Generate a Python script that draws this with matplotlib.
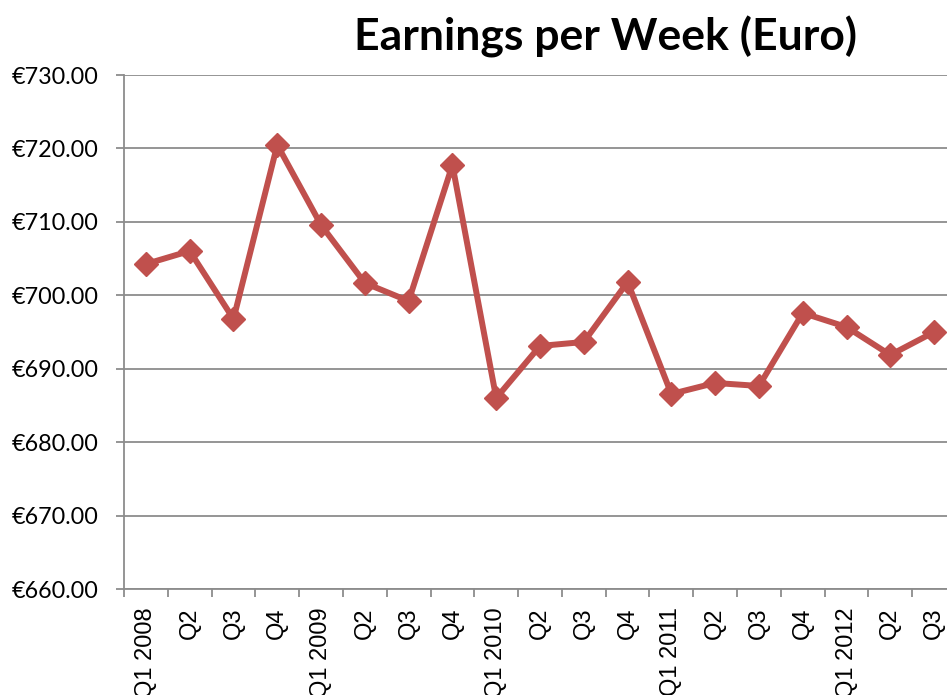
"""Earnings per Week (Euro), quarterly 2008-2012"""
import numpy as np
from matplotlib import pyplot as plt

quarters = ['Q1 2008', 'Q2', 'Q3', 'Q4',
            'Q1 2009', 'Q2', 'Q3', 'Q4',
            'Q1 2010', 'Q2', 'Q3', 'Q4',
            'Q1 2011', 'Q2', 'Q3', 'Q4',
            'Q1 2012', 'Q2', 'Q3']
earnings = [704.26, 706.03, 696.77, 720.47,
            709.57, 701.67, 699.22, 717.74,
            686.01, 693.10, 693.64, 701.81,
            686.56, 688.06, 687.65, 697.59,
            695.68, 691.87, 695.00]
y_ticks = np.arange(660, 730 + 10, 10)


def plot():
    fig = plt.figure(figsize=(9.47, 6.95), dpi=100)
    # axes run past the right edge, as in the cropped original
    ax = fig.add_axes([124 / 947, 1 - 589 / 695, 832 / 947, 514 / 695])

    x = np.arange(len(quarters))
    ax.plot(x, earnings, color='#C0504D', linewidth=4.3, marker='D',
            markersize=12, zorder=3, clip_on=False)

    ax.set_xlim(-0.5, len(quarters) - 0.5)
    ax.set_ylim(y_ticks[0], y_ticks[-1])
    ax.set_yticks(y_ticks)
    ax.set_yticklabels(['€{:.2f}'.format(v) for v in y_ticks],
                       fontfamily='Lato', fontsize=16.8)
    ax.yaxis.grid(True, color='#8c8c8c', linewidth=1.3)
    ax.set_axisbelow(True)

    ax.set_xticks(x)
    ax.set_xticklabels(quarters, rotation=90, fontfamily='Liberation Sans',
                       fontsize=17, va='top')
    ax.set_xticks(np.arange(len(quarters) + 1) - 0.5, minor=True)
    ax.tick_params(axis='x', which='major', length=0, pad=13)
    ax.tick_params(axis='x', which='minor', length=6, width=1.3,
                   color='#8c8c8c', direction='out')
    ax.tick_params(axis='y', length=6, width=1.3, color='#8c8c8c', pad=12)

    for side in ('top', 'right'):
        ax.spines[side].set_visible(False)
    for side in ('left', 'bottom'):
        ax.spines[side].set_color('#8c8c8c')
        ax.spines[side].set_linewidth(1.3)

    fig.text(605 / 947, 1 - 37 / 695, 'Earnings per Week (Euro)',
             ha='center', va='center', fontfamily='Lato',
             fontweight='bold', fontsize=32)

    fig.savefig('out.png', dpi=100)


if __name__ == '__main__':
    plot()
